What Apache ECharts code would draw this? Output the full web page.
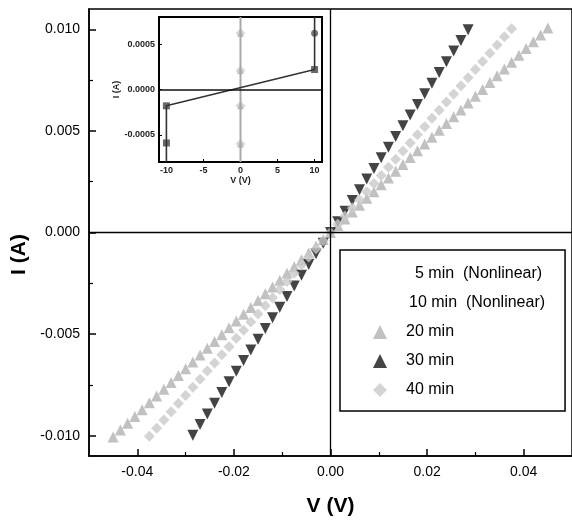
<!DOCTYPE html>
<html>
<head>
<meta charset="utf-8">
<script src="https://cdn.jsdelivr.net/npm/echarts@6/dist/echarts.min.js"></script>
<style>
html,body{margin:0;padding:0;background:#fff;}
#chart{width:572px;height:522px;}
</style>
</head>
<body>
<div id="chart"></div>
<script>
// ---- main plot data (V in volts, I in amperes) ----
const v20 = [-0.0450,-0.0435,-0.0420,-0.0405,-0.0390,-0.0375,-0.0360,-0.0345,-0.0330,-0.0315,-0.0300,-0.0285,-0.0270,-0.0255,-0.0240,-0.0225,-0.0210,-0.0195,-0.0180,-0.0165,-0.0150,-0.0135,-0.0120,-0.0105,-0.0090,-0.0075,-0.0060,-0.0045,-0.0030,-0.0015,0,0.0015,0.0030,0.0045,0.0060,0.0075,0.0090,0.0105,0.0120,0.0135,0.0150,0.0165,0.0180,0.0195,0.0210,0.0225,0.0240,0.0255,0.0270,0.0285,0.0300,0.0315,0.0330,0.0345,0.0360,0.0375,0.0390,0.0405,0.0420,0.0435,0.0450];
const i20 = [-0.01006,-0.00972,-0.00939,-0.00905,-0.00872,-0.00838,-0.00805,-0.00771,-0.00738,-0.00704,-0.00671,-0.00637,-0.00603,-0.00570,-0.00536,-0.00503,-0.00469,-0.00436,-0.00402,-0.00369,-0.00335,-0.00302,-0.00268,-0.00235,-0.00201,-0.00168,-0.00134,-0.00101,-0.00067,-0.00034,0,0.00034,0.00067,0.00101,0.00134,0.00168,0.00201,0.00235,0.00268,0.00302,0.00335,0.00369,0.00402,0.00436,0.00469,0.00503,0.00536,0.00570,0.00603,0.00637,0.00671,0.00704,0.00738,0.00771,0.00805,0.00838,0.00872,0.00905,0.00939,0.00972,0.01006];

const v30 = [-0.0285,-0.0270,-0.0255,-0.0240,-0.0225,-0.0210,-0.0195,-0.0180,-0.0165,-0.0150,-0.0135,-0.0120,-0.0105,-0.0090,-0.0075,-0.0060,-0.0045,-0.0030,-0.0015,0,0.0015,0.0030,0.0045,0.0060,0.0075,0.0090,0.0105,0.0120,0.0135,0.0150,0.0165,0.0180,0.0195,0.0210,0.0225,0.0240,0.0255,0.0270,0.0285];
const i30 = [-0.00998,-0.00945,-0.00893,-0.00840,-0.00788,-0.00735,-0.00683,-0.00630,-0.00578,-0.00525,-0.00473,-0.00420,-0.00368,-0.00315,-0.00263,-0.00210,-0.00158,-0.00105,-0.00053,0,0.00053,0.00105,0.00158,0.00210,0.00263,0.00315,0.00368,0.00420,0.00473,0.00525,0.00578,0.00630,0.00683,0.00735,0.00788,0.00840,0.00893,0.00945,0.00998];

const v40 = [-0.0375,-0.0360,-0.0345,-0.0330,-0.0315,-0.0300,-0.0285,-0.0270,-0.0255,-0.0240,-0.0225,-0.0210,-0.0195,-0.0180,-0.0165,-0.0150,-0.0135,-0.0120,-0.0105,-0.0090,-0.0075,-0.0060,-0.0045,-0.0030,-0.0015,0,0.0015,0.0030,0.0045,0.0060,0.0075,0.0090,0.0105,0.0120,0.0135,0.0150,0.0165,0.0180,0.0195,0.0210,0.0225,0.0240,0.0255,0.0270,0.0285,0.0300,0.0315,0.0330,0.0345,0.0360,0.0375];
const i40 = [-0.01003,-0.00963,-0.00923,-0.00882,-0.00842,-0.00802,-0.00762,-0.00722,-0.00682,-0.00642,-0.00602,-0.00562,-0.00521,-0.00481,-0.00441,-0.00401,-0.00361,-0.00321,-0.00281,-0.00241,-0.00201,-0.00160,-0.00120,-0.00080,-0.00040,0,0.00040,0.00080,0.00120,0.00160,0.00201,0.00241,0.00281,0.00321,0.00361,0.00401,0.00441,0.00481,0.00521,0.00562,0.00602,0.00642,0.00682,0.00722,0.00762,0.00802,0.00842,0.00882,0.00923,0.00963,0.01003];

// ---- inset data ----
const insetCurveV = [-10,-10,10,10];
const insetCurveI = [-0.0008,-0.00018,0.00022,0.0008];
const insetSquareV = [-10,-10,10];
const insetSquareI = [-0.00059,-0.00018,0.00022];
const insetCircleV = [10];
const insetCircleI = [0.00062];
const insetOhmicV = [0,0,0,0];
const insetOhmicI = [-0.0006,-0.00018,0.00021,0.00062];
const insetOhmicLineV = [0,0];
const insetOhmicLineI = [-0.0008,0.0008];

// ---- tick labels ----
const xTickValues = [-0.04,-0.02,0,0.02,0.04];
const xMinorTicks = [-0.03,-0.01,0.01,0.03];
const yTickValues = [-0.01,-0.005,0,0.005,0.01];
const yMinorTicks = [-0.0075,-0.0025,0.0025,0.0075];
const insetXTicks = [-10,-5,0,5,10];
const insetYTicks = [-0.0005,0,0.0005];

const names = ['5 min  (Nonlinear)','10 min  (Nonlinear)','20 min','30 min','40 min'];

const pairs = (xs, ys) => xs.map((x, k) => [x, ys[k]]);
const FONT = "'Liberation Sans', Arial, sans-serif";

const chart = echarts.init(document.getElementById('chart'), null, {renderer:'canvas'});
chart.setOption({
  animation: false,
  backgroundColor: '#fff',
  textStyle: {fontFamily: FONT},
  grid: [
    {left: 89, top: 9, width: 489, height: 450, show: true, borderColor: '#000', borderWidth: 1.5, backgroundColor: 'transparent'},
    {left: 159, top: 17, width: 163, height: 145, show: true, borderColor: '#000', borderWidth: 2, backgroundColor: '#fff'}
  ],
  xAxis: [
    {type: 'value', gridIndex: 0, min: -0.05, max: 0.05, position: 'bottom',
     axisLine: {onZero: false, lineStyle: {color: '#000', width: 1.5}},
     axisTick: {inside: true, length: 7, customValues: xTickValues, lineStyle: {color: '#000', width: 1.5}},
     axisLabel: {customValues: xTickValues, formatter: v => v.toFixed(2), fontSize: 14, color: '#000', margin: 9, fontFamily: FONT},
     splitLine: {show: false},
     name: 'V (V)', nameLocation: 'middle', nameGap: 40,
     nameTextStyle: {fontSize: 21, fontWeight: 'bold', color: '#000', fontFamily: FONT}},
    {type: 'value', gridIndex: 0, min: -0.05, max: 0.05, position: 'bottom', offset: 0,
     axisLine: {show: false, onZero: false},
     axisTick: {inside: true, length: 4, customValues: xMinorTicks, lineStyle: {color: '#000', width: 1.2}},
     axisLabel: {show: false}, splitLine: {show: false}},
    {type: 'value', gridIndex: 1, min: -11, max: 11, position: 'bottom',
     axisLine: {onZero: false, lineStyle: {color: '#000', width: 2}},
     axisTick: {inside: true, length: 3, customValues: insetXTicks, lineStyle: {color: '#000'}},
     axisLabel: {customValues: insetXTicks, fontSize: 9, fontWeight: 'bold', color: '#222', margin: 4, fontFamily: FONT},
     splitLine: {show: false},
     name: 'V (V)', nameLocation: 'middle', nameGap: 9,
     nameTextStyle: {fontSize: 9, fontWeight: 'bold', color: '#222', fontFamily: FONT}}
  ],
  yAxis: [
    {type: 'value', gridIndex: 0, min: -0.011, max: 0.011, position: 'left',
     axisLine: {onZero: false, lineStyle: {color: '#000', width: 1.5}},
     axisTick: {inside: true, length: 7, customValues: yTickValues, lineStyle: {color: '#000', width: 1.5}},
     axisLabel: {customValues: yTickValues, formatter: v => v.toFixed(3), fontSize: 14, color: '#000', margin: 9, fontFamily: FONT},
     splitLine: {show: false},
     name: 'I (A)', nameLocation: 'middle', nameGap: 58,
     nameTextStyle: {fontSize: 21, fontWeight: 'bold', color: '#000', fontFamily: FONT, padding: [0, 44, 0, 0]}},
    {type: 'value', gridIndex: 0, min: -0.011, max: 0.011, position: 'left', offset: 0,
     axisLine: {show: false, onZero: false},
     axisTick: {inside: true, length: 4, customValues: yMinorTicks, lineStyle: {color: '#000', width: 1.2}},
     axisLabel: {show: false}, splitLine: {show: false}},
    {type: 'value', gridIndex: 1, min: -0.0008, max: 0.0008, position: 'left',
     axisLine: {onZero: false, lineStyle: {color: '#000', width: 2}},
     axisTick: {inside: true, length: 3, customValues: insetYTicks, lineStyle: {color: '#000'}},
     axisLabel: {customValues: insetYTicks, formatter: v => v.toFixed(4), fontSize: 9, fontWeight: 'bold', color: '#222', margin: 4, fontFamily: FONT},
     splitLine: {show: false},
     name: 'I (A)', nameLocation: 'middle', nameGap: 38,
     nameTextStyle: {fontSize: 9, fontWeight: 'bold', color: '#222', fontFamily: FONT}}
  ],
  legend: {
    orient: 'vertical', left: 340, top: 250,
    padding: [16, 20, 13, 33], itemWidth: 14, itemHeight: 14, itemGap: 13,
    borderColor: '#000', borderWidth: 1.5, backgroundColor: '#fff',
    selectedMode: false,
    textStyle: {fontSize: 16, color: '#000', fontFamily: FONT, padding: [0, 0, 0, 14]},
    data: [
      {name: names[0], itemStyle: {opacity: 0}, textStyle: {padding: [0, 0, 0, 23]}},
      {name: names[1], itemStyle: {opacity: 0}, textStyle: {padding: [0, 0, 0, 17]}},
      {name: names[2]},
      {name: names[3]},
      {name: names[4]}
    ]
  },
  series: [
    {name: names[2], type: 'scatter', xAxisIndex: 0, yAxisIndex: 0,
     data: pairs(v20, i20), symbol: 'triangle', symbolSize: 11,
     itemStyle: {color: '#b2b2b2'},
     markLine: {silent: true, symbol: 'none', label: {show: false},
                lineStyle: {color: '#000', width: 1.3, type: 'solid'},
                data: [{xAxis: 0}, {yAxis: 0}]}},
    {name: names[3], type: 'scatter', xAxisIndex: 0, yAxisIndex: 0,
     data: pairs(v30, i30), symbol: 'triangle', symbolRotate: 180, symbolSize: 11,
     itemStyle: {color: '#151515'}},
    {name: names[4], type: 'scatter', xAxisIndex: 0, yAxisIndex: 0,
     data: pairs(v40, i40), symbol: 'diamond', symbolSize: 11,
     itemStyle: {color: '#c9c9c9'}},
    // inset
    {name: 'insetOhmicLine', type: 'line', xAxisIndex: 2, yAxisIndex: 2,
     data: pairs(insetOhmicLineV, insetOhmicLineI), showSymbol: false,
     lineStyle: {color: '#a8a8a8', width: 2},
     markLine: {silent: true, symbol: 'none', label: {show: false},
                lineStyle: {color: '#111', width: 1.6, type: 'solid'},
                data: [{yAxis: 0}]}},
    {name: 'insetCurve', type: 'line', xAxisIndex: 2, yAxisIndex: 2,
     data: pairs(insetCurveV, insetCurveI), showSymbol: false,
     lineStyle: {color: '#333', width: 1.6}},
    {name: 'insetOhmicDiamond', type: 'scatter', xAxisIndex: 2, yAxisIndex: 2,
     data: pairs(insetOhmicV, insetOhmicI), symbol: 'diamond', symbolSize: 10,
     itemStyle: {color: '#cfcfcf'}},
    {name: 'insetOhmicTri', type: 'scatter', xAxisIndex: 2, yAxisIndex: 2,
     data: pairs(insetOhmicV, insetOhmicI), symbol: 'triangle', symbolSize: 7,
     itemStyle: {color: '#b5b5b5'}},
    {name: names[0], type: 'scatter', xAxisIndex: 2, yAxisIndex: 2,
     data: pairs(insetSquareV, insetSquareI), symbol: 'rect', symbolSize: 7,
     itemStyle: {color: '#444'}},
    {name: names[1], type: 'scatter', xAxisIndex: 2, yAxisIndex: 2,
     data: pairs(insetCircleV, insetCircleI), symbol: 'circle', symbolSize: 7,
     itemStyle: {color: '#555'}}
  ]
});
</script>
</body>
</html>
